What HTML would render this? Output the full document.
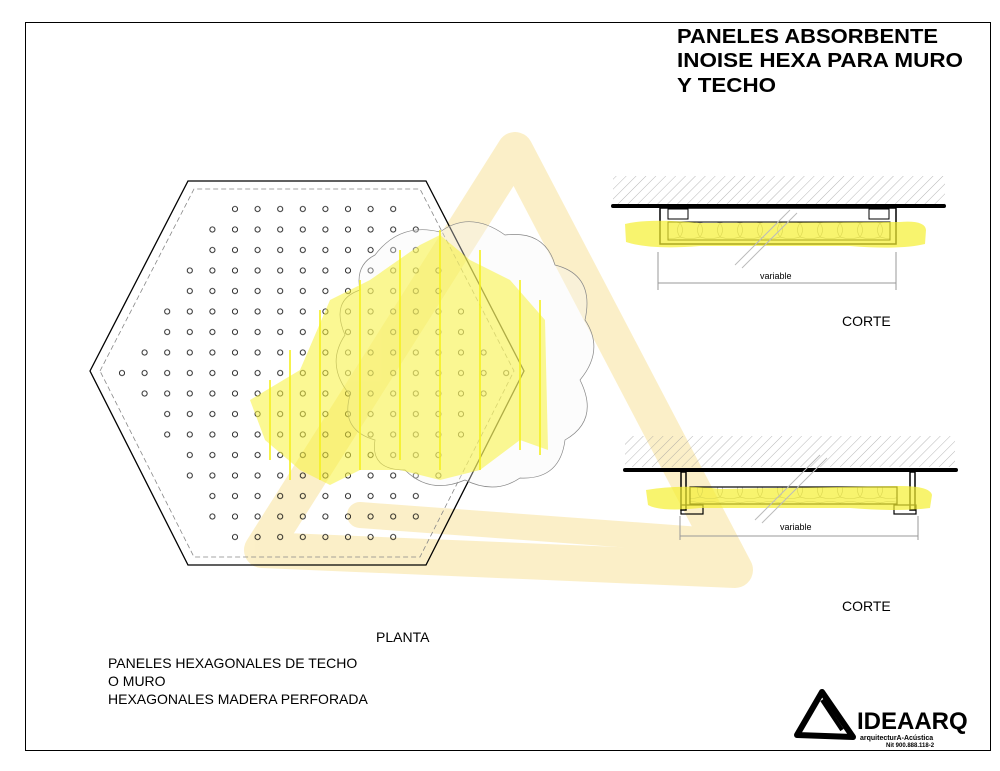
<!DOCTYPE html>
<html><head><meta charset="utf-8"><style>
html,body{margin:0;padding:0;background:#fff}
svg{display:block}
text{font-family:"Liberation Sans",Arial,sans-serif}
</style></head><body>
<svg width="1000" height="771" viewBox="0 0 1000 771" xmlns="http://www.w3.org/2000/svg">
<defs>
<pattern id="dots" patternUnits="userSpaceOnUse" x="110.7" y="198.75" width="22.6" height="20.5">
<circle cx="11.3" cy="10.25" r="2.6" fill="none" stroke="#000" stroke-width="0.8"/>
</pattern>
<pattern id="hatch" patternUnits="userSpaceOnUse" width="7" height="7" patternTransform="rotate(45)">
<line x1="0" y1="0" x2="0" y2="7" stroke="#999" stroke-width="0.7"/>
</pattern>
<pattern id="wave" patternUnits="userSpaceOnUse" width="20" height="20">
<path d="M0 3 Q5 10 0 17 M20 3 Q15 10 20 17 M0 3 Q10 0 20 3 M0 17 Q10 20 20 17" fill="none" stroke="#999" stroke-width="0.6"/>
</pattern>
</defs>
<rect x="25.5" y="22.5" width="965" height="728" fill="none" stroke="#000" stroke-width="1"/>

<g fill="none" stroke="#fbecbb" stroke-linecap="round" stroke-linejoin="round" opacity="0.8">
<path d="M515 150 L262 550 L735 570 Z" stroke-width="36"/>
<path d="M515 150 L620 360 L700 510" stroke-width="26"/>
<path d="M360 515 L700 540" stroke-width="26"/>
</g>

<polygon points="90,371 188,181 426,181 524,371 426,565 188,565" fill="none" stroke="#000" stroke-width="1.3"/>
<polygon points="100,371 194,189 420,189 514,371 420,557 194,557" fill="none" stroke="#888" stroke-width="0.8" stroke-dasharray="5,3"/>
<g fill="url(#dots)">
<rect x="225" y="200" width="174" height="18"/>
<rect x="202" y="220" width="220" height="18"/>
<rect x="202" y="240" width="220" height="18"/>
<rect x="180" y="260" width="264" height="18"/>
<rect x="180" y="280" width="264" height="18"/>
<rect x="157" y="300" width="310" height="18"/>
<rect x="157" y="320" width="310" height="18"/>
<rect x="136" y="341" width="352" height="18"/>
<rect x="114" y="362" width="396" height="18"/>
<rect x="136" y="382" width="352" height="18"/>
<rect x="157" y="402" width="310" height="18"/>
<rect x="157" y="423" width="310" height="18"/>
<rect x="180" y="443" width="264" height="18"/>
<rect x="180" y="464" width="264" height="18"/>
<rect x="202" y="484" width="220" height="18"/>
<rect x="202" y="505" width="220" height="18"/>
<rect x="225" y="525" width="174" height="18"/>
</g>

<path d="M375 255 Q400 222 440 232 Q470 210 505 235 Q545 230 555 265 Q595 275 585 320 Q605 350 580 380 Q600 420 565 440 Q560 480 520 478 Q495 495 465 480 Q430 495 405 470 Q370 470 375 440 Q340 430 350 395 Q325 365 345 335 Q330 300 360 290 Q355 265 375 255 Z" fill="rgba(245,245,245,0.35)" stroke="#888" stroke-width="0.7"/>

<g fill="#f7f23a" opacity="0.55">
<path d="M300 370 L330 300 L370 280 L420 245 L440 235 L470 260 L510 280 L545 320 L548 450 L520 440 L480 470 L440 480 L400 470 L360 470 L330 485 L300 470 L265 440 L250 400 Z"/>
</g>
<g stroke="#f5f020" stroke-width="2" opacity="0.8">
<line x1="320" y1="310" x2="320" y2="480"/><line x1="290" y1="350" x2="290" y2="480"/><line x1="270" y1="380" x2="270" y2="460"/>
<line x1="440" y1="230" x2="440" y2="470"/><line x1="520" y1="280" x2="520" y2="450"/><line x1="540" y1="300" x2="540" y2="455"/>
<line x1="400" y1="250" x2="400" y2="460"/><line x1="360" y1="280" x2="360" y2="470"/><line x1="480" y1="250" x2="480" y2="470"/>
</g>

<rect x="613" y="176" width="332" height="28" fill="url(#hatch)"/>
<line x1="613" y1="206" x2="944" y2="206" stroke="#000" stroke-width="4" stroke-linecap="round"/>
<rect x="660" y="208" width="236" height="36" fill="none" stroke="#000" stroke-width="1.5"/>
<rect x="668" y="209" width="20" height="10" fill="none" stroke="#000"/>
<rect x="869" y="209" width="20" height="10" fill="none" stroke="#000"/>
<rect x="668" y="222" width="222" height="18" fill="url(#wave)" stroke="#000"/>
<path d="M625 224 Q650 218 700 223 L900 222 Q925 220 926 230 L925 244 Q900 250 850 246 L700 246 Q650 250 626 242 Z" fill="#f5f030" opacity="0.7"/>
<line x1="735" y1="265" x2="790" y2="210" stroke="#bbb"/>
<line x1="742" y1="268" x2="797" y2="213" stroke="#bbb"/>
<line x1="658" y1="252" x2="658" y2="290" stroke="#999"/>
<line x1="896" y1="252" x2="896" y2="290" stroke="#999"/>
<line x1="658" y1="283" x2="896" y2="283" stroke="#999"/>
<text x="760" y="279" font-size="9">variable</text>
<text x="842" y="326" font-size="14">CORTE</text>

<rect x="625" y="436" width="330" height="31" fill="url(#hatch)"/>
<line x1="625" y1="470" x2="956" y2="470" stroke="#000" stroke-width="4" stroke-linecap="round"/>
<rect x="681" y="472" width="5" height="38" fill="none" stroke="#000" stroke-width="1.5"/>
<rect x="910" y="472" width="5" height="38" fill="none" stroke="#000" stroke-width="1.5"/>
<rect x="681" y="505" width="22" height="9" fill="none" stroke="#000" stroke-width="1.2"/>
<rect x="894" y="505" width="22" height="9" fill="none" stroke="#000" stroke-width="1.2"/>
<rect x="690" y="487" width="207" height="17" fill="url(#wave)" stroke="#000" stroke-width="1.2"/>
<path d="M646 490 Q680 484 720 489 L900 486 Q930 486 932 495 L930 508 Q900 512 850 508 L700 508 Q660 512 648 505 Z" fill="#f5f030" opacity="0.7"/>
<line x1="755" y1="520" x2="820" y2="455" stroke="#bbb"/>
<line x1="762" y1="523" x2="827" y2="458" stroke="#bbb"/>
<line x1="680" y1="516" x2="680" y2="540" stroke="#999"/>
<line x1="918" y1="516" x2="918" y2="540" stroke="#999"/>
<line x1="680" y1="536" x2="918" y2="536" stroke="#999"/>
<text x="780" y="530" font-size="9">variable</text>
<text x="842" y="611" font-size="14">CORTE</text>

<g font-weight="bold" font-size="20">
<text x="677" y="43" textLength="261" lengthAdjust="spacingAndGlyphs">PANELES ABSORBENTE</text>
<text x="677" y="67" textLength="286" lengthAdjust="spacingAndGlyphs">INOISE HEXA PARA MURO</text>
<text x="677" y="92" textLength="99" lengthAdjust="spacingAndGlyphs">Y TECHO</text>
</g>
<text x="376" y="642" font-size="14">PLANTA</text>
<text x="108" y="668" font-size="14">PANELES HEXAGONALES DE TECHO</text>
<text x="108" y="686" font-size="14">O MURO</text>
<text x="108" y="704" font-size="14">HEXAGONALES MADERA PERFORADA</text>

<g fill="none" stroke="#000" stroke-linejoin="round">
<path d="M822 692 L797 735 L853 737 Z" stroke-width="6"/>
<path d="M822 700 L842 730" stroke-width="4"/>
</g>
<text x="857" y="729" font-size="24" font-weight="bold">IDEAARQ</text>
<text x="860" y="740" font-size="7" font-weight="bold">arquitecturA-Acústica</text>
<text x="886" y="747" font-size="6" font-weight="bold">Nit 900.888.118-2</text>
</svg>
</body></html>
